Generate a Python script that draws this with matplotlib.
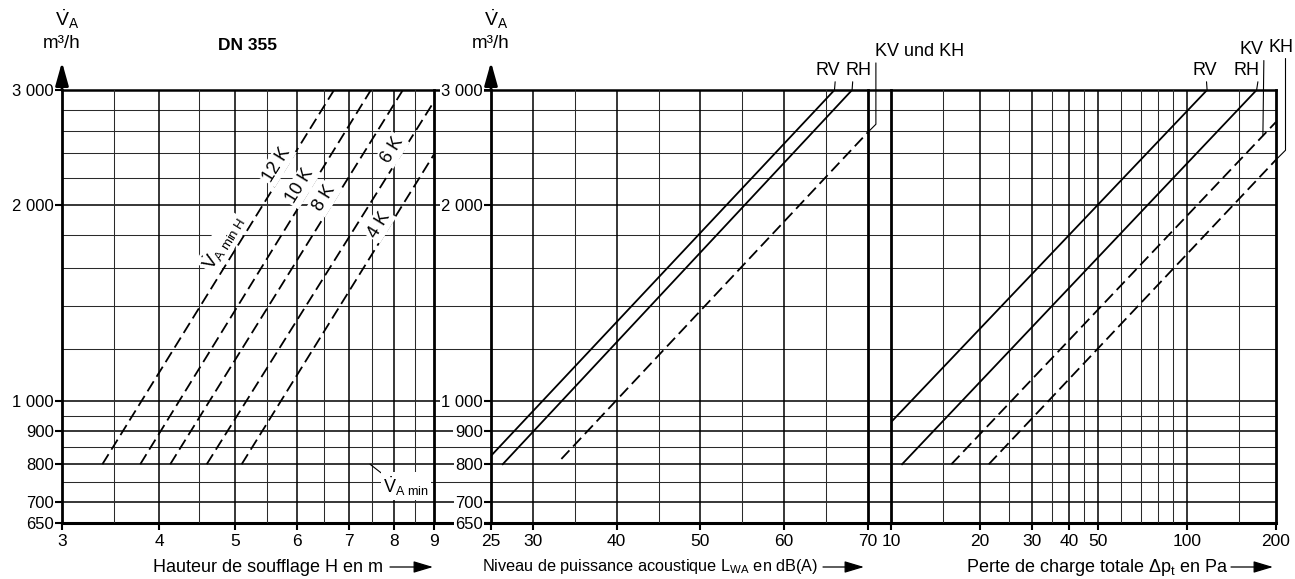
import numpy as np
import matplotlib
matplotlib.use('Agg')
import matplotlib.pyplot as plt
from matplotlib.ticker import FixedLocator, NullLocator, FixedFormatter, NullFormatter

plt.rcParams['font.family'] = ['Liberation Sans', 'DejaVu Sans']
plt.rcParams['mathtext.fontset'] = 'custom'
plt.rcParams['mathtext.rm'] = 'Liberation Sans'
plt.rcParams['mathtext.it'] = 'Liberation Sans:italic'
plt.rcParams['mathtext.bf'] = 'Liberation Sans:bold'

# ---------------- data ----------------
V_major = [650, 700, 800, 900, 1000, 2000, 3000]
V_major_labels = ['650', '700', '800', '900', '1 000', '2 000', '3 000']
V_minor = [750, 850, 950, 1200, 1400, 1600, 1800, 2200, 2400, 2600, 2800]

H_major = [3, 4, 5, 6, 7, 8, 9]
H_minor = [3.5, 4.5, 5.5, 6.5, 7.5, 8.5]
dB_major = [25, 30, 40, 50, 60, 70]
dB_minor = [35, 45, 55, 65]
dp_major = [10, 20, 30, 40, 50, 100, 200]
dp_minor = [15, 25, 35, 45, 60, 70, 80, 90, 150]

K_labels = ['12 K', '10 K', '8 K', '6 K', '4 K']
K_H_start = [3.38, 3.78, 4.13, 4.60, 5.10]
K_V_start = [800, 800, 800, 800, 800]
K_H_end = [6.70, 7.47, 8.21, 9.0, 9.0]
K_V_end = [3000, 3000, 3000, 2880, 2390]
K_label_V = [2290, 2120, 2030, 2410, 1850]
Vmin_H_label_V = 1750
Vmin_point_H = 7.45

LWA_RV_dB = [25.0, 66.0]
LWA_RV_V = [824, 3000]
LWA_RH_dB = [26.4, 68.1]
LWA_RH_V = [800, 3000]
LWA_K_dB = [33.4, 70.0]
LWA_K_V = [815, 2585]

DP_RV = [10.0, 117.0]
DP_RV_V = [928, 3000]
DP_RH = [10.9, 172.0]
DP_RH_V = [800, 3000]
DP_KV = [16.0, 200.0]
DP_KV_V = [800, 2680]
DP_KH = [21.4, 200.0]
DP_KH_V = [800, 2345]

# ---------------- layout ----------------
W, Hpx = 1295, 579
TOP, BOT = 90, 523
fig = plt.figure(figsize=(W / 100, Hpx / 100), dpi=100)


def rect(x0, x1):
    return [x0 / W, 1 - BOT / Hpx, (x1 - x0) / W, (BOT - TOP) / Hpx]


MAJ_C, MAJ_LW = 'black', 1.1
MIN_C, MIN_LW = '#2a2a2a', 0.75
FS = 12

bg = fig.add_axes(rect(62, 1276))
bg.set_yscale('log')
bg.set_ylim(650, 3000)
bg.set_xlim(0, 1)
bg.yaxis.set_major_locator(NullLocator())
bg.yaxis.set_minor_locator(NullLocator())
bg.xaxis.set_major_locator(NullLocator())
bg.tick_params(left=False, bottom=False, labelleft=False, labelbottom=False)
for v in V_major[1:-1]:
    bg.axhline(v, color=MAJ_C, lw=MAJ_LW, zorder=1)
for v in V_minor:
    bg.axhline(v, color=MIN_C, lw=MIN_LW, zorder=1)
bg.spines['left'].set_visible(False)
bg.spines['right'].set_visible(False)
bg.spines['top'].set_linewidth(1.8)
bg.spines['bottom'].set_linewidth(2.2)


def make_panel(x0, x1, xscale, xlim, xmajor, xminor, ylabels):
    ax = fig.add_axes(rect(x0, x1))
    ax.patch.set_visible(False)
    ax.set_yscale('log')
    ax.set_ylim(650, 3000)
    ax.set_xscale(xscale)
    ax.set_xlim(*xlim)
    ax.xaxis.set_major_locator(FixedLocator(xmajor))
    ax.xaxis.set_major_formatter(FixedFormatter([str(x) for x in xmajor]))
    ax.xaxis.set_minor_locator(NullLocator())
    ax.xaxis.set_minor_formatter(NullFormatter())
    ax.yaxis.set_major_locator(FixedLocator(V_major))
    ax.yaxis.set_major_formatter(FixedFormatter(V_major_labels))
    ax.yaxis.set_minor_locator(NullLocator())
    ax.yaxis.set_minor_formatter(NullFormatter())
    for x in xmajor[1:-1]:
        ax.axvline(x, color=MAJ_C, lw=MAJ_LW, zorder=1)
    for x in xminor:
        ax.axvline(x, color=MIN_C, lw=MIN_LW, zorder=1)
    ax.spines['top'].set_visible(False)
    ax.spines['bottom'].set_visible(False)
    ax.spines['left'].set_linewidth(2.0)
    ax.spines['right'].set_linewidth(2.0)
    ax.tick_params(axis='x', direction='out', length=5, width=1.5, pad=3,
                   labelsize=FS + 0.5)
    ax.tick_params(axis='y', direction='out', length=5, width=1.5, pad=1,
                   labelsize=FS, left=ylabels, labelleft=ylabels, right=False)
    if ylabels:
        ax.annotate('', xy=(0, 1 + 28 / (BOT - TOP)), xytext=(0, 1.0),
                    xycoords='axes fraction',
                    arrowprops=dict(arrowstyle='-|>,head_length=1.0,head_width=0.28',
                                    lw=2.0, color='k', mutation_scale=14,
                                    shrinkA=0, shrinkB=0), annotation_clip=False)
        ax.text(0.0, 1 + (TOP - 43) / (BOT - TOP), 'm³/h', transform=ax.transAxes,
                ha='center', va='center', fontsize=FS + 1.5)
        ax.text(-7 / (x1 - x0), 1 + (TOP - 19) / (BOT - TOP),
                r'$\dot{\mathrm{V}}_{\mathrm{A}}$',
                transform=ax.transAxes, ha='left', va='center', fontsize=FS + 2)
    return ax


ax1 = make_panel(62, 434, 'log', (3, 9), H_major, H_minor, True)
ax2 = make_panel(491, 868, 'linear', (25, 70), dB_major, dB_minor, True)
ax3 = make_panel(891, 1276, 'log', (10, 200), dp_major, dp_minor, False)

for lbl in ax2.get_yticklabels():
    lbl.set_bbox(dict(facecolor='white', edgecolor='none', pad=1.0))

DASH = (0, (6.5, 3.0))
LW = 1.3


def loglog_x(x0, x1, v0, v1, v):
    lx = np.log10(x0) + (np.log10(v) - np.log10(v0)) * \
        (np.log10(x1) - np.log10(x0)) / (np.log10(v1) - np.log10(v0))
    return 10 ** lx


# ---- panel 1 ----
fig.canvas.draw()
for i in range(len(K_labels)):
    xs = [K_H_start[i], K_H_end[i]]
    vs = [K_V_start[i], K_V_end[i]]
    ax1.plot(xs, vs, color='k', lw=LW, ls=DASH, zorder=3)
    p0 = ax1.transData.transform((xs[0], vs[0]))
    p1 = ax1.transData.transform((xs[1], vs[1]))
    ang = np.degrees(np.arctan2(p1[1] - p0[1], p1[0] - p0[0]))
    hx = loglog_x(xs[0], xs[1], vs[0], vs[1], K_label_V[i])
    ax1.annotate(K_labels[i], xy=(hx, K_label_V[i]), xytext=(-10, 2),
                 textcoords='offset pixels', rotation=ang, rotation_mode='anchor',
                 ha='center', va='center', fontsize=FS + 1, zorder=5,
                 bbox=dict(facecolor='white', edgecolor='none', pad=1.5))
    if i == 0:
        hx0 = loglog_x(xs[0], xs[1], vs[0], vs[1], Vmin_H_label_V)
        ax1.annotate(r'$\dot{\mathrm{V}}_{\mathrm{A\ min\ H}}$', xy=(hx0, Vmin_H_label_V),
                     xytext=(-17, 0), textcoords='offset pixels', rotation=ang,
                     rotation_mode='anchor', ha='center', va='center', fontsize=FS + 1.5,
                     zorder=5, bbox=dict(facecolor='white', edgecolor='none', pad=1.0))

ax1.annotate(r'$\dot{\mathrm{V}}_{\mathrm{A\ min}}$', xy=(Vmin_point_H, 800),
             xytext=(36, -22), textcoords='offset pixels', ha='center', va='center',
             fontsize=FS + 1, zorder=5,
             bbox=dict(facecolor='white', edgecolor='none', pad=1.5),
             arrowprops=dict(arrowstyle='-', lw=0.8, color='k', shrinkA=0, shrinkB=0,
                             relpos=(0, 1)))

# ---- panel 2 ----
ax2.plot(LWA_RV_dB, LWA_RV_V, color='k', lw=LW, zorder=3)
ax2.plot(LWA_RH_dB, LWA_RH_V, color='k', lw=LW, zorder=3)
ax2.plot(LWA_K_dB, LWA_K_V, color='k', lw=LW, ls=DASH, zorder=3)


def leader(ax, text, xy, off, ha, relpos, conn=None):
    ap = dict(arrowstyle='-', lw=0.8, color='k', shrinkA=0, shrinkB=0, relpos=relpos)
    if conn:
        ap['connectionstyle'] = conn
    ax.annotate(text, xy=xy, xytext=off, textcoords='offset pixels', ha=ha,
                va='bottom', fontsize=FS + 1, arrowprops=ap, annotation_clip=False,
                zorder=5)


leader(ax2, 'RV', (LWA_RV_dB[1], LWA_RV_V[1]), (-7, 11), 'center', (0.82, 0))
leader(ax2, 'RH', (LWA_RH_dB[1], LWA_RH_V[1]), (6, 11), 'center', (0.3, 0))
leader(ax2, 'KV und KH', (LWA_K_dB[1], LWA_K_V[1]), (7, 72), 'left', (0.01, 0),
       'angle,angleA=90,angleB=45,rad=0')

# ---- panel 3 ----
ax3.plot(DP_RV, DP_RV_V, color='k', lw=LW, zorder=3)
ax3.plot(DP_RH, DP_RH_V, color='k', lw=LW, zorder=3)
ax3.plot(DP_KV, DP_KV_V, color='k', lw=LW, ls=DASH, zorder=3)
ax3.plot(DP_KH, DP_KH_V, color='k', lw=LW, ls=DASH, zorder=3)

leader(ax3, 'RV', (DP_RV[1], DP_RV_V[1]), (-2, 11), 'center', (0.55, 0))
leader(ax3, 'RH', (DP_RH[1], DP_RH_V[1]), (-10, 11), 'center', (0.95, 0))
kv_x = 180.6
kv_v = 10 ** (np.log10(DP_KV_V[0]) + (np.log10(kv_x) - np.log10(DP_KV[0])) *
              (np.log10(DP_KV_V[1]) - np.log10(DP_KV_V[0])) /
              (np.log10(DP_KV[1]) - np.log10(DP_KV[0])))
leader(ax3, 'KV', (kv_x, kv_v), (1, 78), 'right', (1.0, 0))
leader(ax3, 'KH', (DP_KH[1], DP_KH_V[1]), (5, 104), 'center', (0.68, 0),
       'angle,angleA=90,angleB=45,rad=0')

# ---- texts ----
fig.text(248 / W, 1 - 45 / Hpx, 'DN 355', ha='center', va='center',
         fontsize=FS + 0.5, fontweight='bold')

XL_Y = 1 - 567 / Hpx
xlabels = [
    ('Hauteur de soufflage H en m', 383, 390, 433, FS + 1),
    (r'Niveau de puissance acoustique L$_{\mathrm{WA}}$ en dB(A)', 818, 823, 864, FS - 0.3),
    (r'Perte de charge totale Δp$_{\mathrm{t}}$ en Pa', 1228, 1231, 1273, FS + 1),
]
for txt, xr, a0, a1, fs in xlabels:
    fig.text(xr / W, XL_Y, txt, ha='right', va='center', fontsize=fs)
    bg.annotate('', xy=(a1, Hpx - 567), xytext=(a0, Hpx - 567),
                xycoords='figure pixels', textcoords='figure pixels',
                arrowprops=dict(arrowstyle='-|>,head_length=1.0,head_width=0.3',
                                lw=0.9, color='k', mutation_scale=12,
                                shrinkA=0, shrinkB=0), annotation_clip=False)

fig.savefig('out.png', dpi=100)
